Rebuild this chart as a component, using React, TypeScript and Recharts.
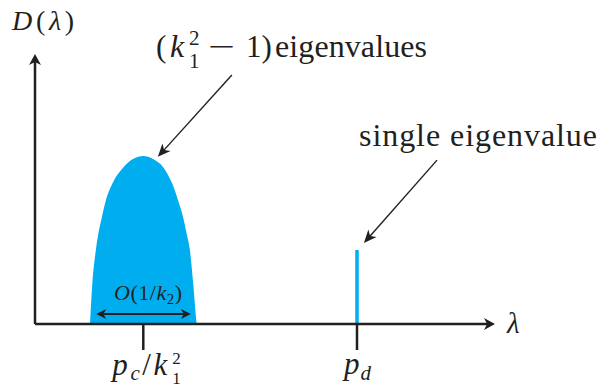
import React from 'react'
import { ComposedChart, Area, Line, XAxis, YAxis, ReferenceLine } from 'recharts'

// bulk of the spectrum (lambda, density)
const bulkLambda = [1.196, 1.203, 1.246, 1.32, 1.376, 1.45, 1.537, 1.68, 1.92, 2.13, 2.354, 2.565, 2.79, 2.985, 3.115, 3.224, 3.298, 3.37, 3.44, 3.5, 3.515]
const bulkDensity = [0, 0.24, 1.48, 2.7, 3.33, 3.93, 4.56, 5.19, 5.8, 6.11, 6.22, 6.11, 5.8, 5.19, 4.56, 3.93, 3.33, 2.7, 1.48, 0.24, 0]

// isolated eigenvalue
const spikeLambda = [7.0, 7.0]
const spikeDensity = [0, 2.74]

// axis ticks
const tickValues = [2.354, 7.0]
const tickNames = ['pc/k1^2', 'pd']

// arrows: [lambda, density] start -> end
const axisEnd = [10, 10]
const widthArrow = [[1.33, 0.37], [3.39, 0.37]]
const bulkArrow = [[4.28, 9.22], [2.67, 6.19]]
const spikeArrow = [[8.74, 6.07], [7.15, 3.0]]

const bulkData = bulkLambda.map((l, i) => ({ lambda: l, density: bulkDensity[i] }))
const spikeData = spikeLambda.map((l, i) => ({ lambda: l, density: spikeDensity[i] }))

const BLUE = '#00aeef'
const INK = '#231f20'
const serif = { fontFamily: "'Liberation Serif', 'DejaVu Serif', serif" }

type ArrowOpts = { width: number; head: number; half: number; both?: boolean }

function arrowShape(o: ArrowOpts) {
  return (p: any) => {
    const { x1, y1, x2, y2 } = p
    const dx = x2 - x1
    const dy = y2 - y1
    const len = Math.hypot(dx, dy) || 1
    const ux = dx / len
    const uy = dy / len
    const nx = -uy
    const ny = ux
    const head = (tx: number, ty: number, sx: number, sy: number) => {
      const bx = tx - sx * o.head
      const by = ty - sy * o.head
      const mx = tx - sx * o.head * 0.72
      const my = ty - sy * o.head * 0.72
      return `M${tx},${ty} L${bx + nx * o.half},${by + ny * o.half} L${mx},${my} L${bx - nx * o.half},${by - ny * o.half} Z`
    }
    const cut = o.head * 0.7
    const sx = o.both ? x1 + ux * cut : x1
    const sy = o.both ? y1 + uy * cut : y1
    return (
      <g>
        <line x1={sx} y1={sy} x2={x2 - ux * cut} y2={y2 - uy * cut} stroke={INK} strokeWidth={o.width} />
        <path d={head(x2, y2, ux, uy)} fill={INK} />
        {o.both && <path d={head(x1, y1, -ux, -uy)} fill={INK} />}
      </g>
    )
  }
}

function LambdaTick(props: any) {
  const { x, y, payload } = props
  const i = tickValues.indexOf(payload.value)
  const name = tickNames[i]
  if (name === 'pd') {
    return (
      <text x={x - 13} y={y + 22} style={serif} fontSize={31} fill={INK}>
        <tspan fontStyle="italic">p</tspan>
        <tspan fontStyle="italic" fontSize={21} dx={1} dy={6}>d</tspan>
      </text>
    )
  }
  return (
    <g style={serif} fill={INK}>
      <text x={x - 31} y={y + 23} fontSize={31} textLength={55} lengthAdjust="spacing">
        <tspan fontStyle="italic">p</tspan>
        <tspan fontStyle="italic" fontSize={21} dy={5}>c</tspan>
        <tspan dy={-5}>/</tspan>
        <tspan fontStyle="italic">k</tspan>
      </text>
      <text x={x + 29} y={y + 12} fontSize={17}>2</text>
      <text x={x + 29} y={y + 32} fontSize={17}>1</text>
    </g>
  )
}

function Labels() {
  return (
    <svg width={600} height={388} style={{ ...serif, position: 'absolute', left: 0, top: 0, pointerEvents: 'none' }} fill={INK}>
      <text x={12} y={30} fontSize={28} textLength={62} lengthAdjust="spacing">
        <tspan fontStyle="italic">D</tspan>(<tspan fontStyle="italic">λ</tspan>)
      </text>
      <text x={156} y={57} fontSize={31}>(</text>
      <text x={170} y={57} fontSize={32} fontStyle="italic">k</text>
      <text x={189} y={45} fontSize={21}>2</text>
      <text x={189} y={68} fontSize={21}>1</text>
      <text x={208} y={57} fontSize={31} textLength={27} lengthAdjust="spacingAndGlyphs">−</text>
      <text x={246} y={57} fontSize={31}>1)</text>
      <text x={275} y={57} fontSize={32} textLength={152} lengthAdjust="spacing">eigenvalues</text>
      <text x={359} y={146} fontSize={32} textLength={238} lengthAdjust="spacing">single eigenvalue</text>
      <text x={507} y={333} fontSize={29} fontStyle="italic">λ</text>
      <text x={114} y={300} fontSize={22} textLength={68} lengthAdjust="spacing">
        <tspan fontStyle="italic">O</tspan>(1/<tspan fontStyle="italic">k</tspan>
        <tspan fontSize={15} dy={4}>2</tspan>
        <tspan dy={-4}>)</tspan>
      </text>
    </svg>
  )
}

export default function App() {
  return (
    <div style={{ position: 'absolute', left: 0, top: 0, width: 600, height: 388, background: '#fff' }}>
      <ComposedChart width={600} height={388} margin={{ top: 54, right: 105, bottom: 0, left: 35 }}>
        <XAxis
          dataKey="lambda"
          type="number"
          domain={[0, axisEnd[0]]}
          ticks={tickValues}
          tick={<LambdaTick />}
          tickSize={26}
          tickLine={{ stroke: INK, strokeWidth: 2.5 }}
          axisLine={false}
          height={64}
          allowDataOverflow
        />
        <YAxis type="number" dataKey="density" domain={[0, axisEnd[1]]} hide allowDataOverflow />
        <Area
          data={bulkData}
          dataKey="density"
          type="monotone"
          fill={BLUE}
          fillOpacity={1}
          stroke="none"
          isAnimationActive={false}
        />
        <Line
          data={spikeData}
          dataKey="density"
          type="linear"
          stroke={BLUE}
          strokeWidth={3.5}
          dot={false}
          isAnimationActive={false}
        />
        <ReferenceLine
          segment={[{ x: 0, y: 0 }, { x: axisEnd[0], y: 0 }]}
          ifOverflow="visible"
          shape={arrowShape({ width: 2.5, head: 11, half: 6 })}
        />
        <ReferenceLine
          segment={[{ x: 0, y: 0 }, { x: 0, y: axisEnd[1] }]}
          ifOverflow="visible"
          shape={arrowShape({ width: 2.5, head: 11, half: 6 })}
        />
        <ReferenceLine
          segment={[{ x: widthArrow[0][0], y: widthArrow[0][1] }, { x: widthArrow[1][0], y: widthArrow[1][1] }]}
          ifOverflow="visible"
          shape={arrowShape({ width: 2.2, head: 10, half: 5, both: true })}
        />
        <ReferenceLine
          segment={[{ x: bulkArrow[0][0], y: bulkArrow[0][1] }, { x: bulkArrow[1][0], y: bulkArrow[1][1] }]}
          ifOverflow="visible"
          shape={arrowShape({ width: 1.4, head: 13, half: 5.5 })}
        />
        <ReferenceLine
          segment={[{ x: spikeArrow[0][0], y: spikeArrow[0][1] }, { x: spikeArrow[1][0], y: spikeArrow[1][1] }]}
          ifOverflow="visible"
          shape={arrowShape({ width: 1.4, head: 13, half: 5.5 })}
        />
      </ComposedChart>
      <Labels />
    </div>
  )
}
